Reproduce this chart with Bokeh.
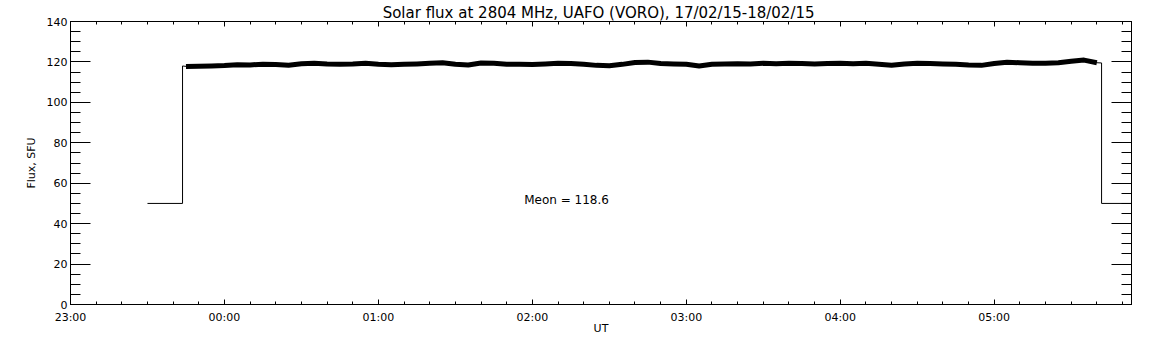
import pandas as pd
from bokeh.plotting import figure
from bokeh.models import (FixedTicker, DatetimeTickFormatter, LinearAxis, DatetimeAxis, Label,
                          Range1d, CustomJSTickFormatter)
from bokeh.embed import file_html
from bokeh.resources import INLINE

# ---- data (UT times, flux in SFU) ----
off_start_times = ["23:30:00", "23:43:40"]
off_start_flux = [50, 50]

flux_times = ["23:43:40", "23:45", "23:50", "23:55", "00:00", "00:05", "00:10", "00:15", "00:20",
              "00:25", "00:30", "00:35", "00:40", "00:45", "00:50", "00:55", "01:00",
              "01:05", "01:10", "01:15", "01:20", "01:25", "01:30", "01:35", "01:40",
              "01:45", "01:50", "01:55", "02:00", "02:05", "02:10", "02:15", "02:20",
              "02:25", "02:30", "02:35", "02:40", "02:45", "02:50", "02:55", "03:00",
              "03:05", "03:10", "03:15", "03:20", "03:25", "03:30", "03:35", "03:40",
              "03:45", "03:50", "03:55", "04:00", "04:05", "04:10", "04:15", "04:20",
              "04:25", "04:30", "04:35", "04:40", "04:45", "04:50", "04:55", "05:00",
              "05:05", "05:10", "05:15", "05:20", "05:25", "05:30", "05:35", "05:40", "05:41:50"]
flux_values = [118.0, 117.8, 117.9, 118.0, 118.2, 118.6, 118.5, 118.9, 118.7,
               118.4, 119.1, 119.3, 119.0, 118.9, 119.0, 119.3, 118.8,
               118.6, 118.8, 119.0, 119.3, 119.6, 118.8, 118.5, 119.5,
               119.3, 118.9, 118.8, 118.7, 119.0, 119.4, 119.2, 118.9,
               118.3, 118.1, 118.8, 119.7, 119.9, 119.2, 119.0, 118.9,
               118.0, 118.8, 119.0, 119.1, 119.0, 119.3, 119.1, 119.4,
               119.2, 119.0, 119.2, 119.3, 119.1, 119.3, 118.8, 118.4,
               119.0, 119.3, 119.2, 119.0, 118.9, 118.5, 118.3, 119.2,
               119.8, 119.6, 119.3, 119.4, 119.6, 120.3, 120.9, 119.6, 119.5]

off_end_times = ["05:41:50", "05:53:30"]
off_end_flux = [50, 50]

mean_text = "Meon =  118.6"
title_text = "Solar flux at 2804 MHz, UAFO (VORO),  17/02/15-18/02/15"

x_tick_labels = ["23:00", "00:00", "01:00", "02:00", "03:00", "04:00", "05:00"]
y_ticks = [0, 20, 40, 60, 80, 100, 120, 140]


def to_dt(t):
    day = "2015-02-17" if t >= "12" else "2015-02-18"
    return pd.Timestamp(day + " " + t)


def ms(ts):
    return ts.value // 10**6


fx = [to_dt(t) for t in flux_times]
path_x = [to_dt(t) for t in off_start_times] + fx + [to_dt(t) for t in off_end_times]
path_y = off_start_flux + flux_values + off_end_flux

x0 = to_dt("23:00")
x1 = to_dt(off_end_times[-1])

p = figure(width=1144, height=337, x_axis_type="datetime",
           output_backend="svg", toolbar_location=None,
           x_range=Range1d(x0, x1), y_range=Range1d(0, 140),
           min_border_left=70, min_border_right=13, min_border_top=20, min_border_bottom=33)
p.background_fill_color = "white"
p.border_fill_color = "white"
p.outline_line_color = "black"
p.outline_line_width = 1
p.grid.visible = False

p.line(path_x, path_y, line_color="black", line_width=1)
p.line(fx[1:-1], flux_values[1:-1], line_color="black", line_width=5, line_join="round")

major_x = [ms(to_dt(t)) for t in x_tick_labels]
minor_x = [ms(t) for t in pd.date_range(x0, x1, freq="10min")]
xticker = FixedTicker(ticks=major_x, minor_ticks=minor_x)
yticker = FixedTicker(ticks=y_ticks, minor_ticks=list(range(0, 141, 5)))
fmt = DatetimeTickFormatter(minutes="%H:%M", hourmin="%H:%M", hours="%H:%M", days="%H:%M",
                            minsec="%H:%M", seconds="%H:%M")
blank = CustomJSTickFormatter(code="return '';")

FONT = "DejaVu Sans"


def style_axis(ax, major_in, minor_in):
    ax.axis_line_color = "black"
    ax.major_tick_line_color = "black"
    ax.minor_tick_line_color = "black"
    ax.major_tick_in = major_in
    ax.major_tick_out = 0
    ax.minor_tick_in = minor_in
    ax.minor_tick_out = 0
    ax.major_label_text_font = FONT
    ax.major_label_text_font_size = "11px"
    ax.major_label_text_color = "black"
    ax.axis_label_text_font = FONT
    ax.axis_label_text_font_size = "11px"
    ax.axis_label_text_font_style = "normal"
    ax.axis_label_text_color = "black"


xa = p.xaxis[0]
xa.ticker = xticker
xa.formatter = fmt
style_axis(xa, 5, 3)
xa.major_label_standoff = 6
xa.axis_label = "UT"
xa.axis_label_standoff = -5

ya = p.yaxis[0]
ya.ticker = yticker
style_axis(ya, 20, 10)
ya.major_label_standoff = 3
ya.axis_label = "Flux, SFU"
ya.axis_label_standoff = 6

top = DatetimeAxis(ticker=xticker, formatter=blank)
style_axis(top, 5, 3)
top.major_label_standoff = 0
top.axis_label = title_text
top.axis_label_text_font_size = "15px"
top.axis_label_standoff = 0
p.add_layout(top, "above")

right = LinearAxis(ticker=yticker, formatter=blank)
style_axis(right, 20, 10)
right.major_label_standoff = 0
p.add_layout(right, "right")

p.add_layout(Label(x=ms(to_dt("01:56:50")), y=51.9, text=mean_text,
                   text_font=FONT, text_font_size="12px", text_align="left",
                   text_baseline="middle", text_color="black"))

open("out.html", "w").write(file_html(p, INLINE))
